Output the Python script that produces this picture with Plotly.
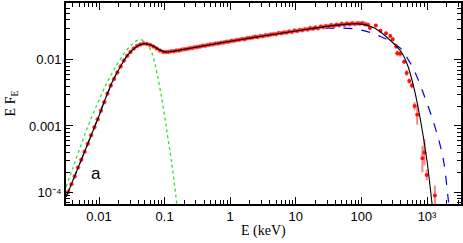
import plotly.graph_objects as go

# ---- model curves (log10 E [keV], log10 E F_E) ----
total_logE = [-2.50, -2.40, -2.30, -2.20, -2.10, -2.00, -1.90, -1.80, -1.70, -1.60, -1.50, -1.40,
              -1.30, -1.20, -1.10, -1.00, -0.90, -0.70, -0.50, 0.0, 0.5, 1.0, 1.5, 1.8, 2.0, 2.2,
              2.4, 2.6, 2.7, 2.8, 2.9, 3.0, 3.07, 3.10]
total_logF = [-4.07, -3.83, -3.585, -3.34, -3.095, -2.85, -2.58, -2.34, -2.15, -1.98, -1.86, -1.785,
              -1.755, -1.78, -1.835, -1.88, -1.875, -1.84, -1.805, -1.72, -1.64, -1.565, -1.49, -1.46,
              -1.46, -1.52, -1.67, -1.87, -2.07, -2.42, -2.91, -3.53, -4.12, -4.40]

alt_logE = [-2.50, -2.30, -2.10, -1.90, -1.70, -1.50, -1.30, -1.10, -1.00, -0.50, 0.0, 0.5, 1.0,
            1.37, 1.6, 1.8, 2.0, 2.29, 2.59, 2.715, 2.8, 2.944, 3.12, 3.25, 3.325, 3.35]
alt_logF = [-4.07, -3.585, -3.095, -2.58, -2.15, -1.86, -1.755, -1.835, -1.88, -1.805, -1.72, -1.64,
            -1.57, -1.53, -1.52, -1.525, -1.55, -1.647, -1.82, -2.0, -2.15, -2.505, -3.01, -3.515,
            -4.12, -4.30]

bb_logE = [-2.50, -2.40, -2.30, -2.20, -2.10, -2.00, -1.90, -1.80, -1.70, -1.60, -1.50, -1.40,
           -1.30, -1.20, -1.10, -1.00, -0.95, -0.90, -0.85, -0.80]
bb_logF = [-3.92, -3.64, -3.36, -3.085, -2.84, -2.61, -2.39, -2.20, -2.03, -1.88, -1.77, -1.70,
           -1.72, -1.88, -2.28, -2.85, -3.18, -3.50, -3.88, -4.30]

# ---- data points ----
data_logE = [-2.47, -2.42, -2.37, -2.32, -2.27, -2.22, -2.17, -2.12, -2.07, -2.02,
             -1.97, -1.92, -1.87, -1.82, -1.77, -1.72, -1.67, -1.62, -1.57, -1.52,
             -1.47, -1.42, -1.37, -1.32, -1.27, -1.22, -1.17, -1.12, -1.07, -1.02,
             -0.98, -0.94, -0.90, -0.86, -0.82, -0.78, -0.74, -0.70, -0.66, -0.62,
             -0.58, -0.54, -0.50, -0.46, -0.42, -0.38, -0.34, -0.30, -0.26, -0.22,
             -0.18, -0.14, -0.10, -0.06, -0.02, 0.02, 0.06, 0.10, 0.14, 0.18,
             0.22, 0.26, 0.30, 0.34, 0.38, 0.42, 0.46, 0.50, 0.54, 0.58,
             0.62, 0.66, 0.70, 0.74, 0.78, 0.82, 0.86, 0.90, 0.94, 0.98,
             1.02, 1.06, 1.10, 1.14, 1.18, 1.22, 1.26, 1.30, 1.34, 1.38,
             1.42, 1.46, 1.50, 1.54, 1.58, 1.62, 1.66, 1.70, 1.74, 1.78,
             1.82, 1.86, 1.90, 1.94, 1.98, 2.02, 2.06, 2.10]
data_logF = [-4.00, -3.88, -3.76, -3.63, -3.51, -3.39, -3.27, -3.14, -3.02, -2.90,
             -2.77, -2.64, -2.51, -2.39, -2.29, -2.19, -2.10, -2.01, -1.94, -1.88,
             -1.83, -1.79, -1.77, -1.755, -1.76, -1.775, -1.80, -1.83, -1.86, -1.88,
             -1.882, -1.880, -1.872, -1.870, -1.860, -1.858, -1.846, -1.842, -1.836, -1.826,
             -1.822, -1.810, -1.806, -1.800, -1.788, -1.786, -1.776, -1.768, -1.766, -1.754,
             -1.752, -1.742, -1.738, -1.728, -1.726, -1.712, -1.712, -1.700, -1.698, -1.686,
             -1.688, -1.672, -1.670, -1.664, -1.652, -1.655, -1.640, -1.642, -1.628, -1.630,
             -1.618, -1.612, -1.612, -1.596, -1.600, -1.586, -1.588, -1.572, -1.578, -1.556,
             -1.566, -1.548, -1.552, -1.536, -1.540, -1.520, -1.530, -1.510, -1.522, -1.498,
             -1.505, -1.490, -1.498, -1.474, -1.488, -1.468, -1.478, -1.455, -1.470, -1.450,
             -1.462, -1.446, -1.458, -1.448, -1.452, -1.445, -1.462, -1.470]

# high-energy points with error bars (log10 E, log10 F, log10 lower, log10 upper)
hi_logE = [2.13, 2.22, 2.29, 2.375, 2.44, 2.477, 2.53, 2.547, 2.59, 2.65, 2.69, 2.73, 2.77,
           2.81, 2.85, 2.93, 2.96, 2.995, 3.12]
hi_logF = [-1.52, -1.48, -1.56, -1.60, -1.64, -1.69, -1.80, -1.90, -1.91, -2.03, -2.20, -2.32,
           -2.39, -2.70, -2.83, -3.49, -3.40, -3.74, -4.05]
hi_logLo = [-1.54, -1.50, -1.58, -1.62, -1.66, -1.72, -1.83, -1.94, -1.95, -2.06, -2.24, -2.36,
            -2.43, -2.76, -2.98, -3.70, -3.60, -3.82, -4.40]
hi_logHi = [-1.50, -1.46, -1.54, -1.58, -1.62, -1.66, -1.77, -1.86, -1.87, -2.00, -2.16, -2.28,
            -2.35, -2.64, -2.68, -3.30, -3.20, -3.66, -3.90]

x_tickvals = [0.01, 0.1, 1, 10, 100, 1000]
x_ticktext = ["0.01", "0.1", "1", "10", "100", "10³"]
y_tickvals = [0.01, 0.001, 0.0001]
y_ticktext = ["0.01", "0.001", "10⁻⁴"]


def p10(v):
    return [10 ** a for a in v]


fig = go.Figure()

fig.add_trace(go.Scatter(x=p10(bb_logE), y=p10(bb_logF), mode="lines",
                         line=dict(color="#33dd33", width=1.3, dash="dot", shape="spline")))
fig.add_trace(go.Scatter(x=p10(alt_logE), y=p10(alt_logF), mode="lines",
                         line=dict(color="#0000ee", width=1.2, dash="dash", shape="spline")))

hiF = p10(hi_logF)
err_up = [h - f for h, f in zip(p10(hi_logHi), hiF)]
err_dn = [f - l for l, f in zip(p10(hi_logLo), hiF)]

fig.add_trace(go.Scatter(x=p10(data_logE), y=p10(data_logF), mode="markers",
                         marker=dict(color="#ff1010", size=4, line=dict(width=1, color="rgba(255,110,110,0.6)"))))
fig.add_trace(go.Scatter(x=p10(hi_logE), y=hiF, mode="markers",
                         marker=dict(color="#ff1010", size=4),
                         error_y=dict(type="data", symmetric=False, array=err_up, arrayminus=err_dn,
                                      color="rgba(255,80,80,0.7)", thickness=2, width=0)))
fig.add_trace(go.Scatter(x=p10(total_logE), y=p10(total_logF), mode="lines",
                         line=dict(color="black", width=1.1, shape="spline")))

fig.add_annotation(x=0.058, y=0.095, xref="paper", yref="paper", text="a", showarrow=False,
                   font=dict(family="Liberation Sans, Arial", size=17, color="black"))
fig.add_annotation(x=0.5, y=-0.134, xref="paper", yref="paper", text="E (keV)", showarrow=False,
                   xanchor="center", yanchor="middle",
                   font=dict(family="Liberation Serif, Times New Roman", size=14, color="black"))
fig.add_annotation(x=-0.137, y=0.5, xref="paper", yref="paper", text="E F<sub>E</sub>",
                   showarrow=False, textangle=-90, xanchor="center", yanchor="middle",
                   font=dict(family="Liberation Serif, Times New Roman", size=14, color="black"))

axis_common = dict(type="log", showgrid=False, zeroline=False, showline=True, linecolor="black",
                   linewidth=1.6, mirror="allticks", ticks="inside", ticklen=7, tickwidth=1.2,
                   tickcolor="black", automargin=False,
                   tickfont=dict(family="Liberation Sans, Arial", size=13, color="black"),
                   minor=dict(ticks="inside", ticklen=4, tickwidth=1, tickcolor="black",
                              dtick="D1", showgrid=False))

fig.update_xaxes(range=[-2.503, 3.518], tickmode="array", tickvals=x_tickvals, ticktext=x_ticktext,
                 **axis_common)
fig.update_yaxes(range=[-4.18, -1.141], tickmode="array", tickvals=y_tickvals, ticktext=y_ticktext,
                 **axis_common)

fig.update_layout(width=463, height=243, margin=dict(l=66, r=2, t=3, b=39),
                  plot_bgcolor="white", paper_bgcolor="white", showlegend=False)

fig.write_html("out.html", config={"displayModeBar": False},
               post_script="document.body.style.margin='0';document.body.style.padding='0';")
